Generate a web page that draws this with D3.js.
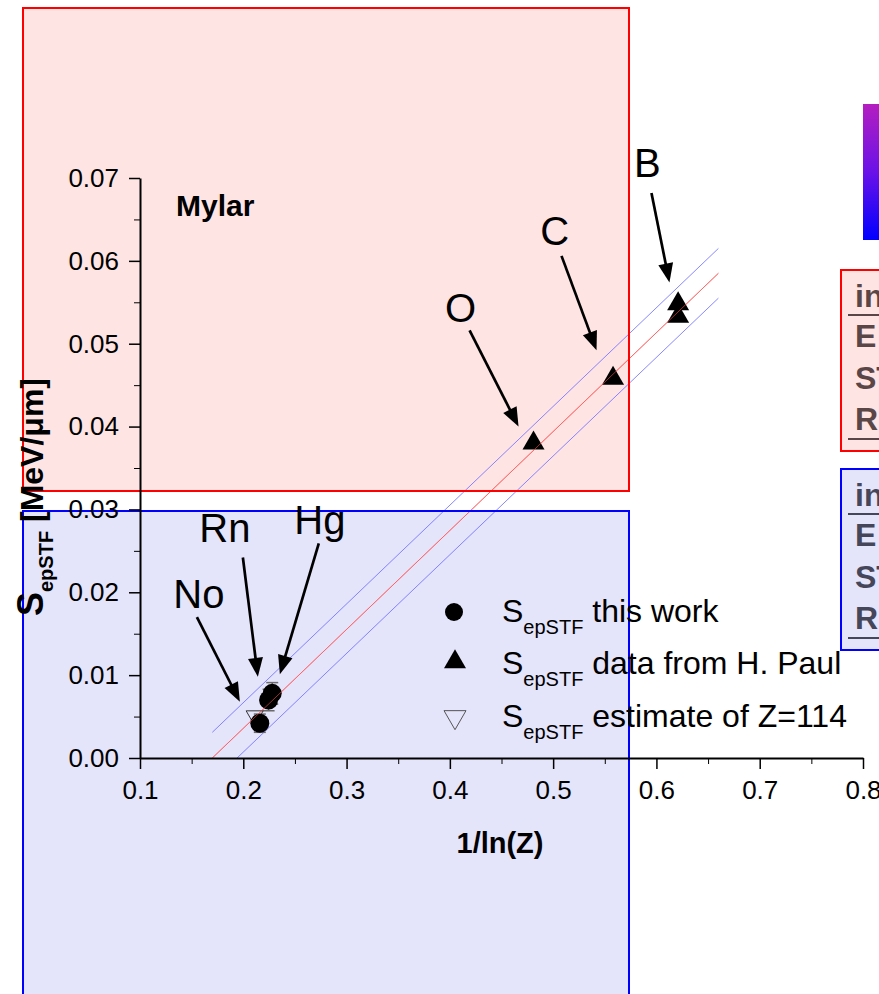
<!DOCTYPE html>
<html>
<head>
<meta charset="utf-8">
<script src="https://cdn.jsdelivr.net/npm/d3@7/dist/d3.min.js"></script>
<style>
  html, body { margin: 0; padding: 0; background: #fff; }
  svg { display: block; }
  text { font-family: "Liberation Sans", Arial, Helvetica, sans-serif; }
</style>
</head>
<body>
<svg id="chart" width="879" height="994"></svg>
<script>
// ---- data ----
const thisWorkNames = ["Hg", "Rn", "No"];
const thisWorkX = [0.228, 0.2245, 0.216];
const thisWorkY = [0.0078, 0.0070, 0.0042];
const thisWorkErr = [0.0013, 0.0013, 0.0011];

const paulNames = ["B", "B", "C", "O"];
const paulX = [0.621, 0.621, 0.558, 0.481];
const paulY = [0.0548, 0.0533, 0.0458, 0.0380];

const estimateNames = ["Z=114"];
const estimateX = [0.211];
const estimateY = [0.0051];

// linear fit and its confidence band (end points)
const fitLine = [[0.170, 0.0000], [0.660, 0.0585]];
const bandUpper = [[0.170, 0.0031], [0.660, 0.0615]];
const bandLower = [[0.194, 0.0000], [0.660, 0.0555]];

const xTicks = [0.1, 0.2, 0.3, 0.4, 0.5, 0.6, 0.7, 0.8];
const xMinorTicks = [0.15, 0.25, 0.35, 0.45, 0.55, 0.65, 0.75];
const yTicks = [0.00, 0.01, 0.02, 0.03, 0.04, 0.05, 0.06, 0.07];
const yMinorTicks = [0.005, 0.015, 0.025, 0.035, 0.045, 0.055, 0.065];

const legendLabels = ["this work", "data from H. Paul", "estimate of Z=114"];
const sideRows = ["in", "E", "ST", "R"];

// ---- layout ----
const svg = d3.select("#chart");
const x = d3.scaleLinear().domain([0.1, 0.8]).range([140, 863]);
const y = d3.scaleLinear().domain([0, 0.07]).range([758, 178]);

// background panels
const panels = [
  { x0: 23, y0: 8, x1: 629, y1: 491, fill: "#ffe4e4", stroke: "#ff0000" },
  { x0: 23, y0: 511, x1: 629, y1: 1000, fill: "#e4e4fb", stroke: "#0000ff" }
];
svg.selectAll("rect.panel").data(panels).join("rect")
  .attr("class", "panel")
  .attr("x", d => d.x0).attr("y", d => d.y0)
  .attr("width", d => d.x1 - d.x0).attr("height", d => d.y1 - d.y0)
  .attr("fill", d => d.fill);

// colour bar at the top right
const defs = svg.append("defs");
const grad = defs.append("linearGradient").attr("id", "bar")
  .attr("x1", 0).attr("y1", 0).attr("x2", 0).attr("y2", 1);
grad.append("stop").attr("offset", 0).attr("stop-color", "#b41ec0");
grad.append("stop").attr("offset", 0.5).attr("stop-color", "#6a12e8");
grad.append("stop").attr("offset", 1).attr("stop-color", "#0000ff");
svg.append("rect").attr("x", 863).attr("y", 104).attr("width", 20).attr("height", 136)
  .attr("fill", "url(#bar)");

// side boxes, running past the right edge
const sideBoxes = [
  { top: 270, bottom: 451, fill: "#ffe4e4", stroke: "#ff0000", ink: "#5a4646" },
  { top: 469, bottom: 650, fill: "#e4e4fb", stroke: "#0000ff", ink: "#46465a" }
];
sideBoxes.forEach(b => {
  svg.append("rect").attr("x", 841).attr("y", b.top)
    .attr("width", 60).attr("height", b.bottom - b.top)
    .attr("fill", b.fill).attr("stroke", b.stroke).attr("stroke-width", 2);
  const baselines = [b.top + 37, b.top + 77, b.top + 119, b.top + 160];
  sideRows.forEach((t, i) => {
    svg.append("text").attr("x", 855).attr("y", baselines[i])
      .attr("font-size", 32).attr("font-weight", "bold").attr("fill", b.ink).text(t);
  });
  [b.top + 45, b.top + 169].forEach(ly => {
    svg.append("line").attr("x1", 848).attr("x2", 880).attr("y1", ly).attr("y2", ly)
      .attr("stroke", b.ink).attr("stroke-width", 2);
  });
});

// fit lines
const line = d3.line().x(d => x(d[0])).y(d => y(d[1]));
svg.append("path").datum(bandUpper).attr("d", line)
  .attr("fill", "none").attr("stroke", "#6a6aff").attr("stroke-width", 1).attr("opacity", 0.8);
svg.append("path").datum(bandLower).attr("d", line)
  .attr("fill", "none").attr("stroke", "#6a6aff").attr("stroke-width", 1).attr("opacity", 0.8);
svg.append("path").datum(fitLine).attr("d", line)
  .attr("fill", "none").attr("stroke", "#ff6a6a").attr("stroke-width", 1).attr("opacity", 0.8);

// error bars for this work
const errG = svg.append("g").attr("stroke", "#6a6a6a").attr("stroke-width", 1.5);
thisWorkX.forEach((xv, i) => {
  const cx = x(xv), lo = y(thisWorkY[i] - thisWorkErr[i]), hi = y(thisWorkY[i] + thisWorkErr[i]);
  errG.append("line").attr("x1", cx).attr("x2", cx).attr("y1", lo).attr("y2", hi);
  errG.append("line").attr("x1", cx - 6).attr("x2", cx + 6).attr("y1", lo).attr("y2", lo);
  errG.append("line").attr("x1", cx - 6).attr("x2", cx + 6).attr("y1", hi).attr("y2", hi);
});

// markers
const triUp = d3.symbol().type(d3.symbolTriangle);
svg.selectAll("path.paul").data(paulX).join("path")
  .attr("class", "paul")
  .attr("d", triUp.size(Math.sqrt(3) / 4 * 22 * 22)())
  .attr("transform", (d, i) => `translate(${x(d)},${y(paulY[i])})`)
  .attr("fill", "#000");

svg.selectAll("path.est").data(estimateX).join("path")
  .attr("class", "est")
  .attr("d", triUp.size(Math.sqrt(3) / 4 * 17 * 17)())
  .attr("transform", (d, i) => `translate(${x(d)},${y(estimateY[i])}) rotate(180)`)
  .attr("fill", "none").attr("stroke", "#333").attr("stroke-width", 1);

svg.selectAll("circle.tw").data(thisWorkX).join("circle")
  .attr("class", "tw")
  .attr("cx", d => x(d)).attr("cy", (d, i) => y(thisWorkY[i]))
  .attr("r", 9.5).attr("fill", "#000");

// red fit line runs over the markers
svg.append("path").datum(fitLine).attr("d", line)
  .attr("fill", "none").attr("stroke", "#ff5050").attr("stroke-width", 1).attr("opacity", 0.6);

// panel outlines
svg.selectAll("rect.outline").data(panels).join("rect")
  .attr("class", "outline")
  .attr("x", d => d.x0).attr("y", d => d.y0)
  .attr("width", d => d.x1 - d.x0).attr("height", d => d.y1 - d.y0)
  .attr("fill", "none").attr("stroke", d => d.stroke).attr("stroke-width", 2);

// axes
const axisFont = g => g.selectAll("text")
  .attr("font-size", 26).attr("fill", "#000")
  .attr("font-family", "'Liberation Sans', Arial, sans-serif");

const xAxis = svg.append("g").attr("transform", `translate(0,${y(0)})`)
  .call(d3.axisBottom(x).tickValues(xTicks).tickSize(11).tickPadding(12)
    .tickFormat(d3.format(".1f")).tickSizeOuter(0))
  .call(axisFont);
svg.append("g").attr("transform", `translate(0,${y(0)})`)
  .call(d3.axisBottom(x).tickValues(xMinorTicks).tickSize(6).tickFormat("").tickSizeOuter(0))
  .call(g => g.select(".domain").remove());

const yAxis = svg.append("g").attr("transform", `translate(${x(0.1)},0)`)
  .call(d3.axisLeft(y).tickValues(yTicks).tickSize(11).tickPadding(10)
    .tickFormat(d3.format(".2f")).tickSizeOuter(0))
  .call(axisFont);
svg.append("g").attr("transform", `translate(${x(0.1)},0)`)
  .call(d3.axisLeft(y).tickValues(yMinorTicks).tickSize(6).tickFormat("").tickSizeOuter(0))
  .call(g => g.select(".domain").remove());

[xAxis, yAxis].forEach(g => {
  g.select(".domain").attr("stroke-width", 2);
  g.selectAll(".tick line").attr("stroke-width", 1.5);
});

// axis titles
svg.append("text").attr("x", 500).attr("y", 853).attr("text-anchor", "middle")
  .attr("font-size", 29).attr("font-weight", "bold").text("1/ln(Z)");

const yTitle = svg.append("text")
  .attr("transform", "translate(43,497) rotate(-90)")
  .attr("text-anchor", "middle").attr("font-weight", "bold");
yTitle.append("tspan").attr("font-size", 36).text("S");
yTitle.append("tspan").attr("font-size", 20).attr("dy", 10).text("epSTF");
yTitle.append("tspan").attr("font-size", 32).attr("dy", -10).text(" [MeV/\u03bcm]");

svg.append("text").attr("x", 176).attr("y", 216)
  .attr("font-size", 30).attr("font-weight", "bold").text("Mylar");

// element annotations with arrows (data coordinates)
const notes = [
  { name: "B",  lx: 0.5913, ly: 0.0701, tail: [0.5952, 0.0682], tip: [0.6126, 0.0574] },
  { name: "C",  lx: 0.5014, ly: 0.0619, tail: [0.5081, 0.0606], tip: [0.5420, 0.0492] },
  { name: "O",  lx: 0.4104, ly: 0.0526, tail: [0.4191, 0.0516], tip: [0.4665, 0.0400] },
  { name: "Rn", lx: 0.1822, ly: 0.0261, tail: [0.1996, 0.0242], tip: [0.2141, 0.0098] },
  { name: "Hg", lx: 0.2741, ly: 0.0270, tail: [0.2731, 0.0259], tip: [0.2354, 0.0101] },
  { name: "No", lx: 0.1570, ly: 0.0181, tail: [0.1551, 0.0170], tip: [0.1967, 0.0068] }
];
notes.forEach(n => {
  svg.append("text").attr("x", x(n.lx)).attr("y", y(n.ly))
    .attr("text-anchor", "middle").attr("font-size", 40).attr("fill", "#000").text(n.name);
  const x0 = x(n.tail[0]), y0 = y(n.tail[1]), x1 = x(n.tip[0]), y1 = y(n.tip[1]);
  const len = Math.hypot(x1 - x0, y1 - y0), ux = (x1 - x0) / len, uy = (y1 - y0) / len;
  const hl = 19, hw = 7.5;
  const bx = x1 - ux * hl, by = y1 - uy * hl;
  svg.append("line").attr("x1", x0).attr("y1", y0).attr("x2", bx + ux * 2).attr("y2", by + uy * 2)
    .attr("stroke", "#000").attr("stroke-width", 2.7);
  svg.append("path")
    .attr("d", `M${x1},${y1}L${bx - uy * hw},${by + ux * hw}L${bx + uy * hw},${by - ux * hw}Z`)
    .attr("fill", "#000");
});

// legend
const legendRows = [622, 674, 727];
const lg = svg.append("g");
lg.append("circle").attr("cx", 454).attr("cy", legendRows[0] - 10).attr("r", 9).attr("fill", "#000");
lg.append("path").attr("d", triUp.size(Math.sqrt(3) / 4 * 22 * 22)())
  .attr("transform", `translate(455,${legendRows[1] - 12})`).attr("fill", "#000");
lg.append("path").attr("d", triUp.size(Math.sqrt(3) / 4 * 22 * 22)())
  .attr("transform", `translate(455,${legendRows[2] - 10}) rotate(180)`)
  .attr("fill", "none").attr("stroke", "#555").attr("stroke-width", 1);
legendLabels.forEach((t, i) => {
  const tx = lg.append("text").attr("x", 502).attr("y", legendRows[i]).attr("fill", "#000");
  tx.append("tspan").attr("font-size", 32).text("S");
  tx.append("tspan").attr("font-size", 20).attr("dy", 12).text("epSTF");
  tx.append("tspan").attr("font-size", 32).attr("dy", -12).text(" " + t);
});
</script>
</body>
</html>
